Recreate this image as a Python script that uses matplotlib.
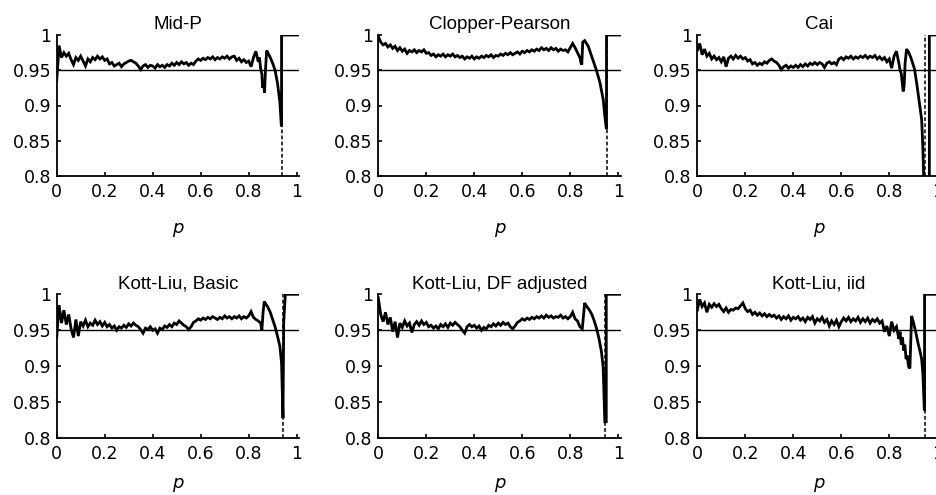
import numpy as np
import matplotlib
matplotlib.use("Agg")
import matplotlib.pyplot as plt

plt.rcParams['font.family'] = ['Liberation Sans', 'DejaVu Sans']
plt.rcParams['font.size'] = 12

# shared p grid for the smooth part of every curve (0 .. 0.84)
p_grid = np.linspace(0, 0.84, 85)

titles = ["Mid-P", "Clopper-Pearson", "Cai",
          "Kott-Liu, Basic", "Kott-Liu, DF adjusted", "Kott-Liu, iid"]

midp = [0.935, 0.985, 0.968, 0.975, 0.970, 0.974, 0.965, 0.958, 0.968, 0.964,
        0.970, 0.963, 0.956, 0.966, 0.962, 0.968, 0.965, 0.970, 0.966, 0.969,
        0.964, 0.966, 0.959, 0.961, 0.956, 0.958, 0.960, 0.955, 0.959, 0.961,
        0.963, 0.964, 0.962, 0.960, 0.956, 0.951, 0.956, 0.958, 0.954, 0.957,
        0.956, 0.953, 0.958, 0.955, 0.957, 0.954, 0.958, 0.956, 0.960, 0.957,
        0.961, 0.958, 0.962, 0.959, 0.961, 0.957, 0.960, 0.958, 0.963, 0.966,
        0.964, 0.967, 0.965, 0.968, 0.966, 0.969, 0.965, 0.968, 0.966, 0.969,
        0.967, 0.970, 0.966, 0.969, 0.970, 0.964, 0.967, 0.962, 0.965, 0.961,
        0.963, 0.955, 0.968, 0.977, 0.962]
midp_tail_p = [0.845, 0.85, 0.855, 0.858, 0.862, 0.866, 0.87, 0.875, 0.88, 0.89,
               0.90, 0.91, 0.92, 0.93, 0.936, 0.937, 0.937, 1.011]
midp_tail = [0.968, 0.952, 0.945, 0.925, 0.935, 0.918, 0.950, 0.978, 0.975, 0.968,
             0.960, 0.950, 0.932, 0.905, 0.872, 0.872, 1.0, 1.0]

cp = [0.998, 0.990, 0.986, 0.988, 0.983, 0.986, 0.981, 0.984, 0.978, 0.982,
      0.977, 0.980, 0.974, 0.978, 0.976, 0.979, 0.975, 0.978, 0.976, 0.979,
      0.974, 0.975, 0.971, 0.973, 0.969, 0.972, 0.970, 0.973, 0.969, 0.972,
      0.970, 0.973, 0.969, 0.971, 0.968, 0.970, 0.966, 0.969, 0.967, 0.970,
      0.966, 0.969, 0.967, 0.970, 0.968, 0.971, 0.969, 0.972, 0.968, 0.971,
      0.970, 0.973, 0.971, 0.974, 0.972, 0.975, 0.972, 0.974, 0.976, 0.973,
      0.977, 0.975, 0.978, 0.976, 0.979, 0.977, 0.980, 0.978, 0.982, 0.979,
      0.981, 0.978, 0.982, 0.979, 0.981, 0.977, 0.980, 0.978, 0.979, 0.976,
      0.982, 0.988, 0.982, 0.975, 0.968]
cp_tail_p = [0.845, 0.848, 0.852, 0.86, 0.875, 0.896, 0.91, 0.924, 0.9375, 0.944,
             0.95, 0.951, 0.951, 1.011]
cp_tail = [0.960, 0.958, 0.990, 0.992, 0.984, 0.963, 0.949, 0.932, 0.908, 0.885,
           0.868, 0.868, 1.0, 1.0]

cai = [0.978, 0.988, 0.972, 0.980, 0.970, 0.974, 0.966, 0.970, 0.965, 0.968,
       0.962, 0.969, 0.955, 0.967, 0.970, 0.966, 0.971, 0.967, 0.970, 0.966,
       0.968, 0.963, 0.965, 0.959, 0.961, 0.957, 0.960, 0.958, 0.962, 0.960,
       0.964, 0.966, 0.963, 0.961, 0.957, 0.951, 0.955, 0.957, 0.953, 0.956,
       0.954, 0.957, 0.954, 0.958, 0.955, 0.959, 0.956, 0.960, 0.958, 0.961,
       0.958, 0.961, 0.959, 0.954, 0.960, 0.962, 0.959, 0.961, 0.958, 0.966,
       0.968, 0.965, 0.969, 0.967, 0.970, 0.966, 0.969, 0.967, 0.970, 0.968,
       0.971, 0.967, 0.970, 0.968, 0.971, 0.966, 0.969, 0.965, 0.968, 0.962,
       0.966, 0.953, 0.970, 0.977, 0.960]
cai_tail_p = [0.845, 0.85, 0.858, 0.862, 0.866, 0.872, 0.88, 0.89, 0.905, 0.915,
              0.925, 0.935, 0.94, 0.945, 0.967, 0.967, 1.011]
cai_tail = [0.950, 0.945, 0.920, 0.928, 0.960, 0.980, 0.976, 0.968, 0.952, 0.930,
            0.905, 0.880, 0.840, 0.780, 0.780, 1.0, 1.0]

basic = [0.940, 0.985, 0.960, 0.978, 0.958, 0.972, 0.952, 0.940, 0.965, 0.942,
         0.962, 0.956, 0.964, 0.955, 0.960, 0.957, 0.964, 0.958, 0.962, 0.956,
         0.961, 0.955, 0.958, 0.953, 0.956, 0.950, 0.955, 0.953, 0.957, 0.954,
         0.959, 0.956, 0.960, 0.957, 0.955, 0.951, 0.946, 0.953, 0.951, 0.955,
         0.950, 0.952, 0.946, 0.953, 0.951, 0.956, 0.954, 0.958, 0.955, 0.960,
         0.958, 0.963, 0.960, 0.957, 0.955, 0.951, 0.955, 0.961, 0.963, 0.966,
         0.964, 0.967, 0.965, 0.968, 0.966, 0.969, 0.967, 0.965, 0.968, 0.966,
         0.970, 0.967, 0.969, 0.966, 0.969, 0.967, 0.970, 0.966, 0.969, 0.967,
         0.970, 0.976, 0.968, 0.965, 0.963]
basic_tail_p = [0.85, 0.855, 0.86, 0.865, 0.88, 0.89, 0.90, 0.91, 0.92, 0.93,
                0.937, 0.943, 0.946, 0.95, 0.953, 1.011]
basic_tail = [0.960, 0.950, 0.975, 0.990, 0.982, 0.975, 0.965, 0.955, 0.942, 0.928,
              0.905, 0.828, 0.960, 0.985, 1.0, 1.0]

dfadj = [0.995, 0.972, 0.962, 0.975, 0.958, 0.968, 0.948, 0.962, 0.940, 0.960,
         0.954, 0.963, 0.956, 0.960, 0.947, 0.958, 0.962, 0.957, 0.963, 0.958,
         0.961, 0.955, 0.957, 0.953, 0.956, 0.952, 0.958, 0.955, 0.959, 0.954,
         0.960, 0.957, 0.961, 0.958, 0.955, 0.950, 0.946, 0.955, 0.958, 0.955,
         0.957, 0.953, 0.956, 0.950, 0.954, 0.952, 0.957, 0.955, 0.959, 0.956,
         0.960, 0.957, 0.961, 0.958, 0.960, 0.955, 0.952, 0.956, 0.961, 0.963,
         0.966, 0.964, 0.967, 0.965, 0.968, 0.966, 0.969, 0.967, 0.970, 0.967,
         0.971, 0.968, 0.970, 0.967, 0.969, 0.968, 0.971, 0.967, 0.969, 0.966,
         0.969, 0.975, 0.966, 0.963, 0.955]
dfadj_tail_p = [0.85, 0.855, 0.86, 0.865, 0.88, 0.89, 0.90, 0.91, 0.92, 0.93,
                0.937, 0.944, 0.950, 0.950, 1.011]
dfadj_tail = [0.952, 0.970, 0.988, 0.985, 0.978, 0.972, 0.963, 0.952, 0.938, 0.920,
              0.899, 0.823, 0.823, 1.0, 1.0]

iid = [0.978, 0.993, 0.983, 0.988, 0.975, 0.986, 0.982, 0.987, 0.983, 0.986,
       0.980, 0.976, 0.981, 0.975, 0.979, 0.978, 0.981, 0.980, 0.984, 0.988,
       0.980, 0.976, 0.978, 0.972, 0.975, 0.971, 0.974, 0.970, 0.973, 0.969,
       0.972, 0.969, 0.971, 0.967, 0.970, 0.965, 0.969, 0.966, 0.970, 0.964,
       0.968, 0.966, 0.969, 0.964, 0.967, 0.962, 0.968, 0.965, 0.969, 0.960,
       0.966, 0.963, 0.968, 0.961, 0.965, 0.956, 0.963, 0.958, 0.964, 0.955,
       0.962, 0.967, 0.963, 0.968, 0.962, 0.966, 0.963, 0.968, 0.961, 0.966,
       0.962, 0.967, 0.960, 0.965, 0.962, 0.966, 0.960, 0.963, 0.948, 0.956,
       0.942, 0.962, 0.950, 0.955, 0.938]
iid_tail_p = [0.845, 0.85, 0.855, 0.86, 0.865, 0.87, 0.875, 0.88, 0.886, 0.893,
              0.90, 0.905, 0.91, 0.915, 0.92, 0.925, 0.93, 0.935, 0.94, 0.946,
              0.947, 0.947, 1.011]
iid_tail = [0.948, 0.930, 0.940, 0.922, 0.930, 0.910, 0.915, 0.900, 0.897, 0.970,
            0.962, 0.955, 0.948, 0.940, 0.932, 0.925, 0.918, 0.910, 0.890, 0.840,
            0.840, 1.0, 1.0]

# p where the dashed boundary line sits in each panel
dash_p = [0.937, 0.951, 0.948, 0.944, 0.944, 0.947]

series = [(midp, midp_tail_p, midp_tail), (cp, cp_tail_p, cp_tail),
          (cai, cai_tail_p, cai_tail), (basic, basic_tail_p, basic_tail),
          (dfadj, dfadj_tail_p, dfadj_tail), (iid, iid_tail_p, iid_tail)]

xticks = [0, 0.2, 0.4, 0.6, 0.8, 1]
xtick_labels = ["0", "0.2", "0.4", "0.6", "0.8", "1"]
yticks = [0.8, 0.85, 0.9, 0.95, 1]
ytick_labels = ["0.8", "0.85", "0.9", "0.95", "1"]

W, H = 936, 495
fig = plt.figure(figsize=(W / 100, H / 100), dpi=100)

col_left = [56.7, 378.3, 697.3]
ax_w = 242.6
rows = [(35, 176), (294.3, 438.3)]
xlabel_pad = [13, 8]
tick_font = ['DejaVu Sans']

for i, (main, tp, tv) in enumerate(series):
    r, c = divmod(i, 3)
    top, bot = rows[r]
    ax = fig.add_axes([col_left[c] / W, 1 - bot / H, ax_w / W, (bot - top) / H])
    x = list(p_grid) + tp
    y = list(main) + tv
    ax.axhline(0.95, color='black', lw=1.0, zorder=2)
    ax.plot([dash_p[i], dash_p[i]], [0.8, 1.0], color='black', lw=1.1,
            ls=(0, (2.5, 1.5)), zorder=2)
    ax.plot(x, y, color='black', lw=2.0, zorder=3, solid_joinstyle='miter')
    ax.set_xlim(0, 1.011)
    ax.set_ylim(0.8, 1.0)
    ax.set_xticks(xticks)
    ax.set_xticklabels(xtick_labels, family=tick_font, fontsize=12.5)
    ax.set_yticks(yticks)
    ax.set_yticklabels(ytick_labels, family=tick_font, fontsize=12.5)
    for s in ['top', 'right']:
        ax.spines[s].set_visible(False)
    for s in ['left', 'bottom']:
        ax.spines[s].set_linewidth(1.3)
    ax.tick_params(axis='both', direction='in', length=3, width=1.2)
    ax.tick_params(axis='x', pad=5)
    ax.tick_params(axis='y', pad=4)
    ax.set_xlabel("p", family=tick_font, style='italic', fontsize=13,
                  labelpad=xlabel_pad[r])
    ax.set_title(titles[i], fontsize=13.5, pad=4)

fig.savefig("out.png", dpi=100)
